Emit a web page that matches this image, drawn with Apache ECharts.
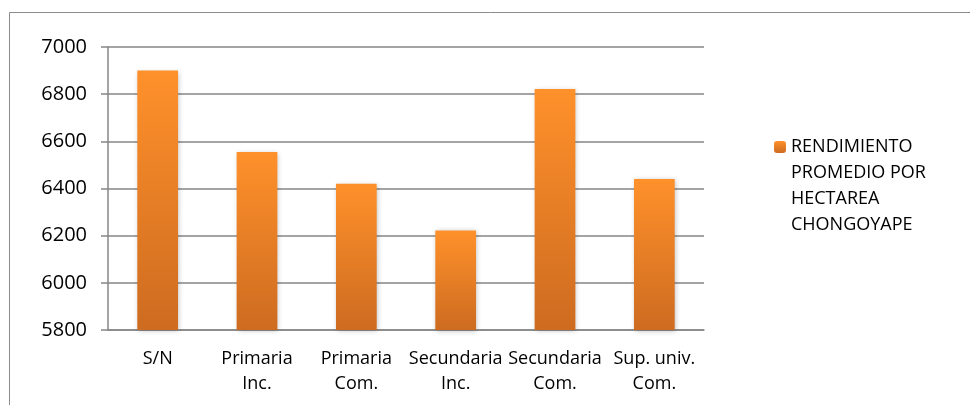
<!DOCTYPE html>
<html>
<head>
<meta charset="utf-8">
<script src="https://cdn.jsdelivr.net/npm/echarts@6/dist/echarts.min.js"></script>
<style>
  html, body { margin: 0; padding: 0; background: #fff; }
  #chart { width: 970px; height: 405px; }
</style>
</head>
<body>
<div id="chart"></div>
<script>
const categories = ['S/N', 'Primaria\nInc.', 'Primaria\nCom.', 'Secundaria\nInc.', 'Secundaria\nCom.', 'Sup. univ.\nCom.'];
const rendimiento = [6900, 6555, 6420, 6222, 6822, 6440];
const seriesName = 'RENDIMIENTO\nPROMEDIO POR\nHECTAREA\nCHONGOYAPE';
const yMin = 5800;
const yMax = 7000;
const yStep = 200;

const chart = echarts.init(document.getElementById('chart'));
const font = '"Open Sans", sans-serif';

const barColor = new echarts.graphic.LinearGradient(0, 0, 0, 1, [
  {offset: 0, color: '#FF912B'},
  {offset: 1, color: '#CD6B20'}
]);

const option = {
  animation: false,
  backgroundColor: '#fff',
  textStyle: {fontFamily: font},
  graphic: [{
    type: 'rect',
    shape: {x: 9.5, y: 12.5, width: 1000, height: 500},
    style: {fill: 'none', stroke: '#8c8c8c', lineWidth: 1}
  }],
  grid: {left: 108, right: 266, top: 47, bottom: 75},
  legend: {
    orient: 'vertical',
    left: 774,
    top: 56,
    padding: 0,
    itemWidth: 12,
    itemHeight: 12,
    itemGap: 6,
    data: [seriesName],
    // blank lines in front keep the first line level with the icon
    formatter: name => '\n\n\n' + name,
    textStyle: {
      fontFamily: font,
      fontSize: 18,
      color: '#000',
      lineHeight: 26
    }
  },
  xAxis: {
    type: 'category',
    data: categories,
    axisLine: {lineStyle: {color: '#868686', width: 1.5}},
    axisTick: {show: false},
    axisLabel: {
      color: '#000',
      fontSize: 18,
      lineHeight: 25,
      margin: 16,
      interval: 0
    }
  },
  yAxis: {
    type: 'value',
    min: yMin,
    max: yMax,
    interval: yStep,
    axisLine: {show: true, lineStyle: {color: '#868686', width: 1.5}},
    axisTick: {show: true, length: 7, lineStyle: {color: '#868686', width: 1.5}},
    splitLine: {lineStyle: {color: '#868686', width: 1.5}},
    axisLabel: {color: '#000', fontSize: 20, margin: 21, formatter: v => String(v)}
  },
  series: [{
    name: seriesName,
    type: 'bar',
    data: rendimiento,
    barWidth: '41%',
    itemStyle: {
      color: barColor,
      shadowBlur: 5,
      shadowColor: 'rgba(0,0,0,0.25)',
      shadowOffsetX: 1,
      shadowOffsetY: 1
    }
  }]
};

chart.setOption(option);
</script>
</body>
</html>
